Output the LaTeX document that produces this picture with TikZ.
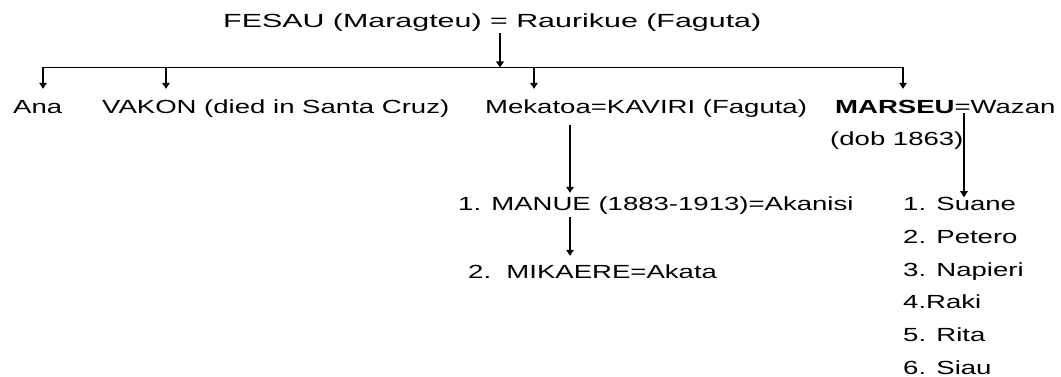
\documentclass[tikz,border=0pt]{standalone}
\usepackage{fontspec}
\setmainfont{Liberation Sans}[FakeStretch=1.45]
\newfontfamily\widefont{Liberation Sans}[FakeStretch=1.6]
\usetikzlibrary{arrows.meta}
\begin{document}
\begin{tikzpicture}
            [x = 1pt, y = -1pt,
             person/.style = {inner sep = 0pt, anchor = base west, text height = 14pt, text depth = 4pt,
                              font = \fontsize{19}{22}\selectfont},
             arr/.style = {-{Triangle[width=7.5pt, length=6pt]}, line width = 1.2pt}]
            \useasboundingbox (0,0) rectangle (1061,377);
            \node[person, font = \widefont\fontsize{19}{22}\selectfont] (fesau) at (223,27.5) {FESAU (Maragteu) = Raurikue (Faguta)};
            \node[person] (ana) at (13,113.5) {Ana};
            \node[person] (vakon) at (102,113.5) {VAKON (died in Santa Cruz)};
            \node[person] (mekatoa) at (485,113.5) {Mekatoa=KAVIRI (Faguta)};
            \node[person] (marseu) at (835,113.5) {\textbf{MARSEU}=Wazan};
            \node[person] (dob) at (830,146) {(dob 1863)};
            \node[person] (manue) at (458,211) {1. MANUE (1883-1913)=Akanisi};
            \node[person] (mikaere) at (468,278) {2.\ \ MIKAERE=Akata};
            \foreach \name [count=\i] in {1. Suane, 2. Petero, 3. Napieri, 4.Raki, 5. Rita, 6. Siau}
                \node[person, text depth = 1pt] (c\i) at (903,177.6+32.8*\i) {\name};
            % family line
            \coordinate (bus) at (500,67.5);
            \coordinate (b1) at (43,67.5);
            \coordinate (b2) at (166,67.5);
            \coordinate (b3) at (534,67.5);
            \coordinate (b4) at (903,67.5);
            \draw[arr, shorten <= 1.5pt] (fesau.south -| bus) -- (bus);
            \draw[line width = 1.2pt] (b1) -- (b4);
            \foreach \b/\n in {b1/ana, b2/vakon, b3/mekatoa, b4/marseu}
                \draw[arr, shorten >= 10.5pt] (\b) -- (\b |- \n.north);
            % descendants
            \coordinate (kline) at ([xshift=85pt]mekatoa.south west);
            \coordinate (mline) at ([xshift=129pt]marseu.base west);
            \draw[arr, shorten <= 7.5pt, shorten >= 4pt] (kline) -- (kline |- manue.north);
            \draw[arr, shorten <= 2pt, shorten >= 8pt] (kline |- manue.south) -- (kline |- mikaere.north);
            \draw[arr, shorten >= -1pt] (mline) -- (mline |- c1.north);
        \end{tikzpicture}
\end{document}
